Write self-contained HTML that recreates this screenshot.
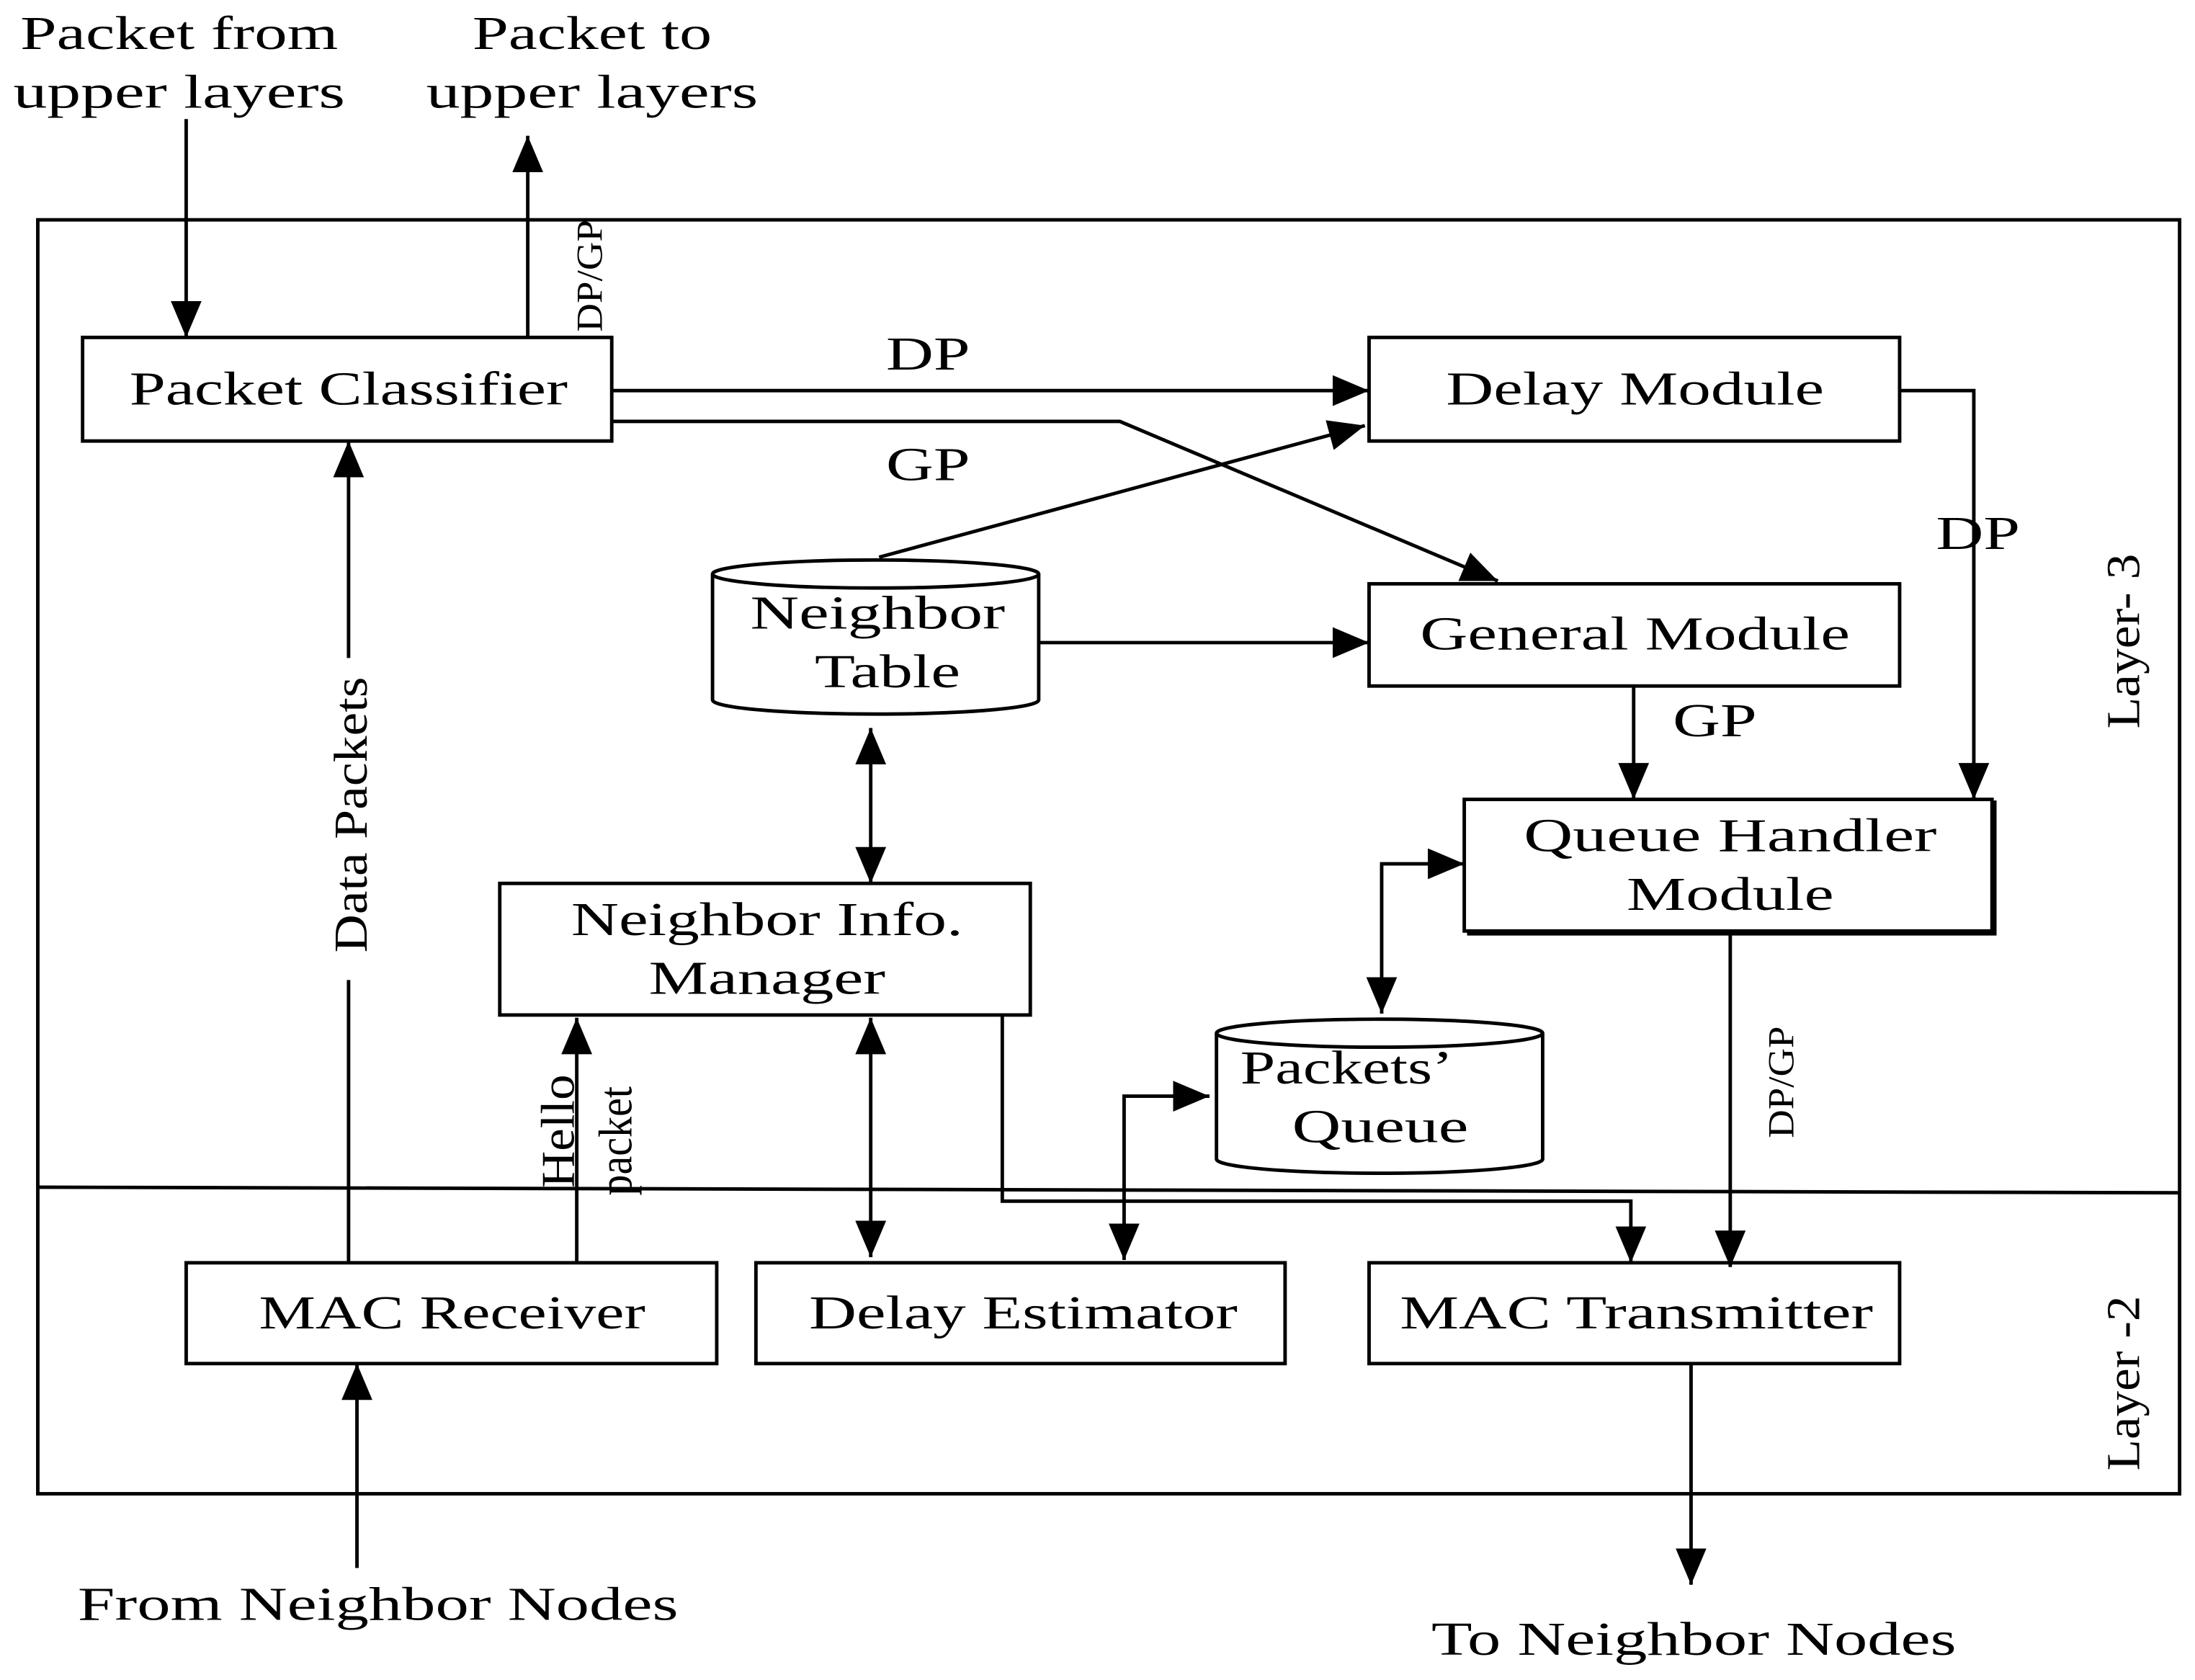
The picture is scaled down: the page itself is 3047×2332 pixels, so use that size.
<!DOCTYPE html>
<html><head><meta charset="utf-8"><style>
html,body{margin:0;padding:0;background:#fff;}
svg{display:block;}
text{font-family:"Liberation Serif",serif;fill:#000;}
</style></head><body>
<svg width="3047" height="2332" viewBox="0 0 1568 1200" xmlns="http://www.w3.org/2000/svg">
<defs>
<marker id="b" viewBox="0 0 10 10" refX="10" refY="5" markerWidth="26" markerHeight="22" markerUnits="userSpaceOnUse" orient="auto-start-reverse" preserveAspectRatio="none">
<path d="M0,0 L10,5 L0,10 z" fill="#000"/></marker>
</defs>
<g fill="none" stroke="#000" stroke-width="2.5">
<rect x="27" y="157" width="1530" height="910"/>
<line x1="27" y1="848" x2="1557" y2="852"/>
<rect x="59" y="241" width="378" height="74"/>
<rect x="978" y="241" width="379" height="74"/>
<rect x="978" y="417" width="379" height="73"/>
<rect x="1046" y="571" width="377" height="94"/>
<polyline points="1423,573 1425,573 1425,667 1048,667"/>
<rect x="357" y="631" width="379" height="94"/>
<rect x="133" y="902" width="379" height="72"/>
<rect x="540" y="902" width="378" height="72"/>
<rect x="978" y="902" width="379" height="72"/>
<path d="M509,410 L509,500 A116,10 0 0 0 742,500 L742,410"/>
<ellipse cx="625.5" cy="410" rx="116.5" ry="10"/>
<path d="M869,738 L869,828 A116,10 0 0 0 1102,828 L1102,738"/>
<ellipse cx="985.5" cy="738" rx="116.5" ry="10"/>
<line x1="249" y1="902" x2="249" y2="700"/>
</g>
<g fill="none" stroke="#000" stroke-width="2.5" marker-end="url(#b)">
<line x1="133" y1="85" x2="133" y2="241"/>
<line x1="377" y1="241" x2="377" y2="97"/>
<line x1="437" y1="279" x2="978" y2="279"/>
<polyline points="437,301 800,301 1070,415"/>
<line x1="628" y1="398" x2="975" y2="304"/>
<line x1="742" y1="459" x2="978" y2="459"/>
<polyline points="1357,279 1410,279 1410,571"/>
<line x1="1167" y1="490" x2="1167" y2="571"/>
<line x1="622" y1="520" x2="622" y2="631" marker-start="url(#b)"/>
<polyline points="987,724 987,617 1046,617" marker-start="url(#b)"/>
<polyline points="864,783 803,783 803,900" marker-start="url(#b)"/>
<line x1="622" y1="727" x2="622" y2="898" marker-start="url(#b)"/>
<polyline points="716,725 716,858 1165,858 1165,902"/>
<line x1="1236" y1="667" x2="1236" y2="905"/>
<line x1="249" y1="470" x2="249" y2="315"/>
<line x1="412" y1="902" x2="412" y2="727"/>
<line x1="255" y1="1120" x2="255" y2="974"/>
<line x1="1208" y1="974" x2="1208" y2="1132"/>
</g>
<g font-size="34" text-anchor="middle">
<text x="128" y="35" textLength="227" lengthAdjust="spacingAndGlyphs">Packet from</text>
<text x="128" y="77" textLength="237" lengthAdjust="spacingAndGlyphs">upper layers</text>
<text x="423" y="35" textLength="171" lengthAdjust="spacingAndGlyphs">Packet to</text>
<text x="423" y="77" textLength="237" lengthAdjust="spacingAndGlyphs">upper layers</text>
<text x="249" y="289" textLength="313" lengthAdjust="spacingAndGlyphs">Packet Classifier</text>
<text x="1168" y="289" textLength="270" lengthAdjust="spacingAndGlyphs">Delay Module</text>
<text x="1168" y="464" textLength="307" lengthAdjust="spacingAndGlyphs">General Module</text>
<text x="1236" y="608" textLength="295" lengthAdjust="spacingAndGlyphs">Queue Handler</text>
<text x="1236" y="650" textLength="148" lengthAdjust="spacingAndGlyphs">Module</text>
<text x="548" y="668" textLength="280" lengthAdjust="spacingAndGlyphs">Neighbor Info.</text>
<text x="548" y="710" textLength="169" lengthAdjust="spacingAndGlyphs">Manager</text>
<text x="627" y="449" textLength="182" lengthAdjust="spacingAndGlyphs">Neighbor</text>
<text x="634" y="491" textLength="104" lengthAdjust="spacingAndGlyphs">Table</text>
<text x="962" y="774" textLength="152" lengthAdjust="spacingAndGlyphs">Packets’</text>
<text x="986" y="816" textLength="126" lengthAdjust="spacingAndGlyphs">Queue</text>
<text x="323" y="949" textLength="276" lengthAdjust="spacingAndGlyphs">MAC Receiver</text>
<text x="731" y="949" textLength="306" lengthAdjust="spacingAndGlyphs">Delay Estimator</text>
<text x="1169" y="949" textLength="338" lengthAdjust="spacingAndGlyphs">MAC Transmitter</text>
<text x="663" y="264" textLength="60" lengthAdjust="spacingAndGlyphs">DP</text>
<text x="663" y="343" textLength="60" lengthAdjust="spacingAndGlyphs">GP</text>
<text x="1413" y="392" textLength="60" lengthAdjust="spacingAndGlyphs">DP</text>
<text x="1225" y="526" textLength="60" lengthAdjust="spacingAndGlyphs">GP</text>
<text x="270" y="1157" textLength="429" lengthAdjust="spacingAndGlyphs">From Neighbor Nodes</text>
<text x="1210" y="1182" textLength="375" lengthAdjust="spacingAndGlyphs">To Neighbor Nodes</text>
<text transform="translate(262,582) rotate(-90)" textLength="197" lengthAdjust="spacingAndGlyphs">Data Packets</text>
<text transform="translate(1528,458) rotate(-90)" textLength="125" lengthAdjust="spacingAndGlyphs">Layer- 3</text>
<text transform="translate(1528,988) rotate(-90)" textLength="125" lengthAdjust="spacingAndGlyphs">Layer -2</text>
<text transform="translate(410,808) rotate(-90)" textLength="81" lengthAdjust="spacingAndGlyphs">Hello</text>
<text transform="translate(451,815) rotate(-90)" textLength="78" lengthAdjust="spacingAndGlyphs">packet</text>
</g>
<g font-size="26" text-anchor="middle">
<text transform="translate(430,197) rotate(-90)" textLength="80" lengthAdjust="spacingAndGlyphs">DP/GP</text>
<text transform="translate(1281,773) rotate(-90)" textLength="80" lengthAdjust="spacingAndGlyphs">DP/GP</text>
</g>
</svg>
</body></html>
